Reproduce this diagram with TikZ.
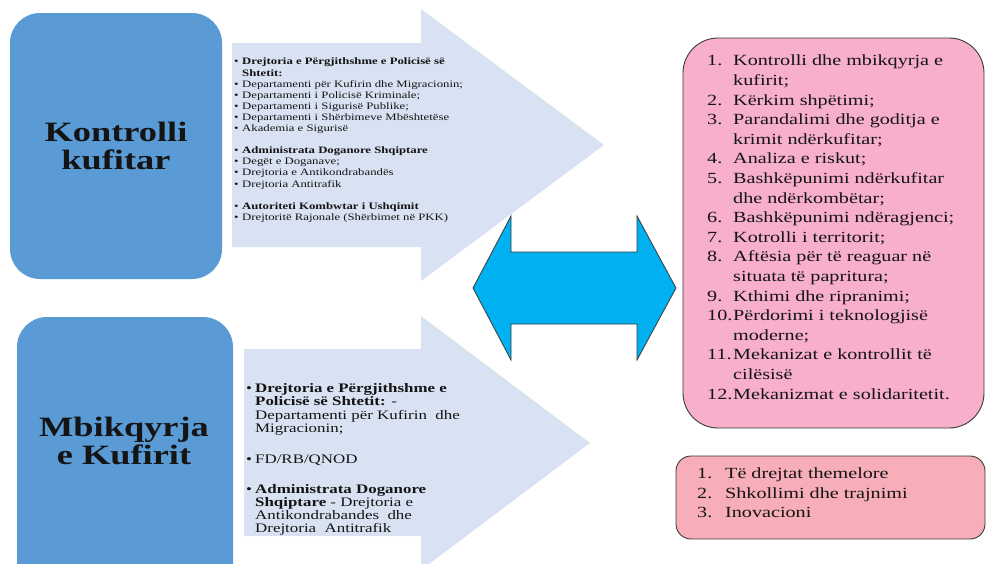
\documentclass[tikz,border=0pt]{standalone}
\usepackage{fontspec,array}
\setmainfont{Liberation Serif}[FakeStretch=1.3]
\definecolor{boxblue}{HTML}{5B9BD5}
\definecolor{arrowgrey}{HTML}{D9E2F2}
\definecolor{linkcyan}{HTML}{00B0F0}
\definecolor{listpink}{HTML}{F8AFCB}
\definecolor{notepink}{HTML}{F7AEB9}
\definecolor{edgegrey}{HTML}{3A3A3A}
\definecolor{inkblack}{HTML}{141414}
\newcommand{\bl}{\textbullet}
\newcommand{\smalltxt}{\fontsize{9.8}{11.1}\selectfont}
\newcommand{\midtxt}{\fontsize{13}{13.3}\selectfont}
\newcommand{\listtxt}{\fontsize{15.5}{19.6}\selectfont}

\begin{document}
\begin{tikzpicture}[x=1pt,y=-1pt,
    titlebox/.style={fill=boxblue,rounded corners=30pt},
    bigarrow/.style={fill=arrowgrey},
    listbox/.style={draw=edgegrey,line width=0.9pt},
    title/.style={align=center,inner sep=0pt,text=inkblack,font=\fontsize{28}{28}\selectfont\bfseries},
    txt/.style={anchor=north west,inner sep=0pt,align=left,text=inkblack}]
    \useasboundingbox (0,0) rectangle (987,563);
    \begin{scope}
        \clip (0,0) rectangle (987,563);
        \fill[titlebox] (10,13) rectangle (222,279);
        \fill[titlebox] (17,317) rectangle (233,600);
        \fill[bigarrow] (232,43) -- (421,43) -- (421,9) -- (604,145) -- (421,281) -- (421,247) -- (232,247) -- cycle;
        \fill[bigarrow] (244,349) -- (421,349) -- (421,316) -- (590,443) -- (421,570) -- (421,536) -- (244,536) -- cycle;
    \end{scope}
    \draw[fill=linkcyan,draw=edgegrey,line width=0.8pt] (473,288) -- (511,216) -- (511,252) -- (637,252) -- (637,216) -- (676,288)
        -- (637,360) -- (637,324) -- (511,324) -- (511,360) -- cycle;
    \draw[listbox,fill=listpink,rounded corners=35pt] (683,38) rectangle (984,428);
    \draw[listbox,fill=notepink,rounded corners=15pt] (676,456) rectangle (985,539);

    \node (kontrolli) at (116,146)[title]{Kontrolli\\kufitar};
    \node (mbikqyrja) at (124,441)[title]{Mbikqyrja\\e Kufirit};

    \node (institucionet) at (234,57)[txt]{\smalltxt
        \begin{tabular}{@{}p{8pt}@{}l@{}}
        \bl & \textbf{Drejtoria e Përgjithshme e Policisë së}\\
            & \textbf{Shtetit:}\\
        \bl & Departamenti për Kufirin dhe Migracionin;\\
        \bl & Departamenti i Policisë Kriminale;\\
        \bl & Departamenti i Sigurisë  Publike;\\
        \bl & Departamenti i Shërbimeve Mbështetëse\\
        \bl & Akademia e Sigurisë\\
            & \\
        \bl & \textbf{Administrata Doganore Shqiptare}\\
        \bl & Degët e Doganave;\\
        \bl & Drejtoria e Antikondrabandës\\
        \bl & Drejtoria Antitrafik\\
            & \\
        \bl & \textbf{Autoriteti Kombwtar i Ushqimit}\\
        \bl & Drejtoritë Rajonale (Shërbimet në PKK)
        \end{tabular}};

    \node (agjencite) at (246,383)[txt]{\midtxt
        \begin{tabular}{@{}p{9pt}@{}l@{}}
        \bl & \textbf{Drejtoria e Përgjithshme e}\\
            & \textbf{Policisë së Shtetit:} -\\
            & Departamenti për Kufirin\ \ dhe\\
            & Migracionin;\\[18pt]
        \bl & FD/RB/QNOD\\[16pt]
        \bl & \textbf{Administrata Doganore}\\
            & \textbf{Shqiptare} - Drejtoria e\\
            & Antikondrabandes\ \ dhe\\
            & Drejtoria\ \ Antitrafik
        \end{tabular}};

    \node (elementet) at (707,52)[txt]{\listtxt
        \begin{tabular}{@{}p{26pt}@{}l@{}}
        1. & Kontrolli dhe mbikqyrja e\\
           & kufirit;\\
        2. & Kërkim shpëtimi;\\
        3. & Parandalimi dhe goditja e\\
           & krimit ndërkufitar;\\
        4. & Analiza e riskut;\\
        5. & Bashkëpunimi ndërkufitar\\
           & dhe ndërkombëtar;\\
        6. & Bashkëpunimi ndëragjenci;\\
        7. & Kotrolli i territorit;\\
        8. & Aftësia për të reaguar në\\
           & situata të papritura;\\
        9. & Kthimi dhe ripranimi;\\
        10.& Përdorimi i teknologjisë\\
           & moderne;\\
        11.& Mekanizat e kontrollit të\\
           & cilësisë\\
        12.& Mekanizmat e solidaritetit.
        \end{tabular}};

    \node (parimet) at (697,465)[txt]{\fontsize{15.5}{19.5}\selectfont
        \begin{tabular}{@{}p{28pt}@{}l@{}}
        1. & Të drejtat themelore\\
        2. & Shkollimi dhe trajnimi\\
        3. & Inovacioni
        \end{tabular}};
\end{tikzpicture}
\end{document}
